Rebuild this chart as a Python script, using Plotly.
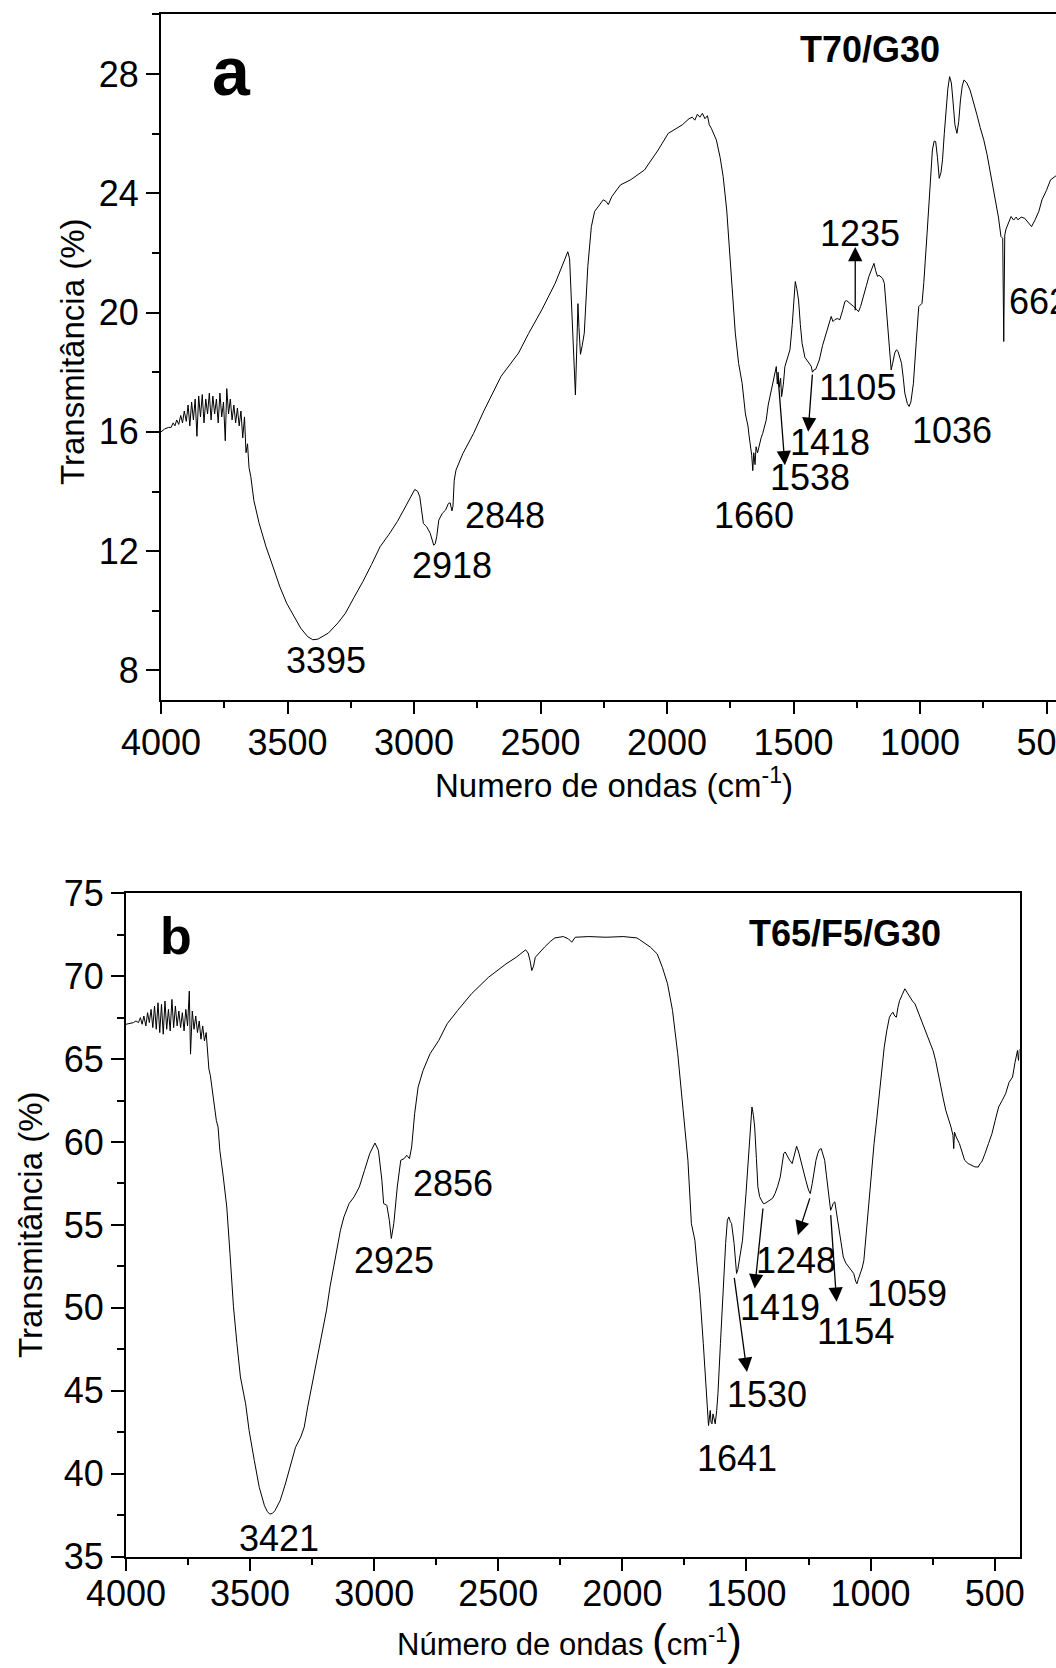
import plotly.graph_objects as go

# ---------------- data: panel a (T70/G30) ----------------
wn_a = [4000, 3985, 3970, 3960, 3952, 3945, 3938, 3930, 3922, 3915, 3908, 3900, 3893, 3886, 3879,
        3872, 3865, 3858, 3851, 3844, 3837, 3830, 3823, 3816, 3809, 3802, 3795, 3788, 3781, 3774,
        3767, 3760, 3753, 3746, 3740, 3733, 3726, 3719, 3712, 3705, 3698, 3691, 3684, 3677, 3670,
        3664, 3658, 3652, 3645, 3633, 3612, 3585, 3557, 3530, 3503, 3475, 3448, 3421, 3400, 3380,
        3339, 3300, 3271, 3237, 3202, 3168, 3134, 3100, 3066, 3030, 2997, 2985, 2977, 2963, 2950,
        2936, 2922, 2916, 2910, 2902, 2888, 2875, 2864, 2857, 2850, 2846, 2841, 2834, 2807, 2765,
        2724, 2656, 2587, 2547, 2495, 2442, 2392, 2385, 2378, 2370, 2362, 2356, 2352, 2348, 2342,
        2335, 2327, 2313, 2299, 2286, 2268, 2252, 2240, 2232, 2218, 2184, 2144, 2089, 2035, 1995,
        1940, 1913, 1900, 1890, 1880, 1870, 1860, 1850, 1840, 1833, 1825, 1805, 1790, 1778, 1764,
        1744, 1730, 1717, 1703, 1690, 1680, 1676, 1670, 1665, 1661, 1657, 1652, 1648, 1642, 1635,
        1628, 1622, 1615, 1608, 1600, 1590, 1580, 1572, 1568, 1564, 1561, 1556, 1551, 1547, 1540,
        1534, 1524, 1514, 1505, 1497, 1493, 1487, 1480, 1473, 1466, 1455, 1446, 1439, 1430, 1425,
        1419, 1412, 1398, 1385, 1371, 1358, 1351, 1344, 1337, 1327, 1317, 1305, 1297, 1290, 1276,
        1262, 1249, 1243, 1235, 1222, 1212, 1202, 1190, 1182, 1175, 1168, 1162, 1155, 1148, 1141,
        1134, 1127, 1120, 1114, 1108, 1100, 1093, 1087, 1080, 1073, 1066, 1060, 1050, 1043, 1036,
        1026, 1015, 1005, 992, 985, 972, 960, 951, 944, 938, 931, 924, 917, 911, 904,
        897, 890, 883, 876, 870, 862, 854, 847, 840, 833, 826, 815, 802, 789, 775,
        762, 748, 735, 721, 710, 701, 690, 680, 673, 669, 665, 660, 650, 640, 630,
        620, 613, 600, 586, 572, 559, 552, 545, 530, 518, 500, 484, 460, 430, 400]
t_a = [16.0, 16.1, 16.15, 16.15, 16.3, 16.2, 16.4, 16.25, 16.55, 16.3, 16.7, 16.35, 16.9, 16.2, 17.0,
       16.4, 17.1, 15.85, 17.2, 16.5, 17.25, 16.3, 17.1, 16.6, 17.3, 16.4, 17.2, 16.6, 17.1, 16.3,
       17.3, 16.5, 17.0, 15.7, 17.45, 16.6, 17.1, 16.4, 16.9, 16.3, 16.8, 16.2, 16.7, 15.8, 16.5,
       15.3, 15.6, 14.8, 14.5, 13.7, 12.93, 12.15, 11.47, 10.8, 10.25, 9.8, 9.42, 9.14, 9.03, 9.05,
       9.25, 9.6, 9.92, 10.45, 10.98, 11.55, 12.15, 12.55, 12.99, 13.55, 14.07, 14.0, 13.82, 12.93, 12.82,
       12.6, 12.2, 12.25, 12.5, 13.04, 13.27, 13.38, 13.6, 13.62, 13.35, 13.5, 14.38, 14.72, 15.27, 15.94,
       16.7, 17.86, 18.64, 19.3, 20.09, 20.98, 22.04, 21.8, 20.5, 18.5, 17.24, 19.0, 20.3, 19.5, 18.6,
       18.9, 19.31, 21.54, 22.88, 23.39, 23.6, 23.78, 23.72, 23.62, 23.89, 24.28, 24.45, 24.78, 25.45, 26.01,
       26.29, 26.5, 26.55, 26.45, 26.65, 26.55, 26.68, 26.5, 26.6, 26.3, 26.18, 25.79, 25.2, 24.56, 23.44,
       21.2, 19.31, 18.3, 17.63, 16.6, 16.2, 15.9, 15.5, 15.2, 14.7, 15.3, 14.9, 15.5, 15.3, 15.61,
       15.8, 15.94, 16.2, 16.39, 16.9, 17.3, 17.7, 18.0, 18.19, 17.6, 18.0, 17.5, 17.8, 17.18, 17.6,
       18.19, 18.5, 18.75, 19.6, 20.6, 21.04, 20.8, 20.42, 19.6, 18.97, 18.5, 18.4, 18.3, 18.2, 18.0,
       18.08, 18.1, 18.41, 18.9, 19.31, 19.7, 19.87, 19.7, 19.76, 19.8, 19.76, 20.1, 20.37, 20.4, 20.31,
       20.2, 20.09, 20.03, 20.2, 20.65, 20.9, 21.21, 21.5, 21.65, 21.4, 21.21, 21.25, 21.21, 21.15, 20.98,
       20.2, 19.31, 18.6, 18.08, 18.3, 18.64, 18.75, 18.7, 18.5, 18.3, 17.8, 17.3, 16.95, 16.85, 17.0,
       17.63, 19.0, 20.2, 20.31, 21.0, 22.66, 24.4, 25.45, 25.75, 25.73, 25.2, 24.5, 24.7, 25.12, 26.0,
       26.79, 27.5, 27.91, 27.7, 27.13, 26.3, 26.01, 26.4, 27.13, 27.6, 27.8, 27.7, 27.46, 27.1, 26.63,
       26.2, 25.79, 25.3, 24.67, 24.2, 23.78, 23.2, 22.55, 22.49, 19.03, 22.6, 22.8, 23.0, 23.22, 23.1,
       23.2, 23.11, 23.2, 23.16, 23.0, 22.88, 23.0, 23.11, 23.4, 23.78, 24.1, 24.45, 24.6, 24.8, 25.0]

# ---------------- data: panel b (T65/F5/G30) ----------------
wn_b = [4000, 3985, 3970, 3960, 3950, 3942, 3935, 3928, 3920, 3913, 3906, 3899, 3892, 3885, 3878,
        3871, 3864, 3857, 3850, 3843, 3836, 3829, 3822, 3815, 3808, 3801, 3794, 3787, 3780, 3773,
        3766, 3759, 3752, 3745, 3740, 3733, 3726, 3719, 3712, 3705, 3698, 3691, 3684, 3677, 3671,
        3666, 3660, 3650, 3643, 3636, 3629, 3622, 3608, 3594, 3581, 3567, 3553, 3539, 3518, 3504,
        3483, 3463, 3442, 3430, 3421, 3410, 3400, 3379, 3358, 3337, 3317, 3296, 3282, 3268, 3247,
        3226, 3206, 3192, 3178, 3157, 3136, 3122, 3101, 3081, 3060, 3039, 3018, 2997, 2983, 2969,
        2962, 2949, 2939, 2931, 2921, 2907, 2893, 2879, 2869, 2858, 2849, 2837, 2823, 2803, 2775,
        2740, 2706, 2664, 2608, 2539, 2469, 2428, 2390, 2380, 2372, 2365, 2358, 2351, 2333, 2314,
        2290, 2272, 2238, 2217, 2204, 2190, 2135, 2066, 1997, 1942, 1930, 1915, 1900, 1887, 1860,
        1839, 1818, 1798, 1777, 1756, 1736, 1722, 1708, 1701, 1688, 1674, 1660, 1653, 1646, 1643,
        1639, 1635, 1632, 1629, 1626, 1620, 1615, 1605, 1595, 1587, 1584, 1577, 1571, 1565, 1560,
        1550, 1540, 1535, 1529, 1516, 1502, 1488, 1478, 1472, 1467, 1460, 1454, 1447, 1440, 1433,
        1426, 1415, 1405, 1395, 1385, 1375, 1364, 1357, 1350, 1344, 1337, 1326, 1316, 1306, 1298,
        1290, 1282, 1270, 1261, 1250, 1243, 1235, 1227, 1220, 1213, 1206, 1199, 1192, 1185, 1178,
        1172, 1166, 1161, 1155, 1151, 1144, 1137, 1130, 1120, 1110, 1100, 1089, 1078, 1068, 1060,
        1055, 1050, 1041, 1034, 1027, 1016, 1006, 996, 986, 975, 965, 955, 945, 935, 924,
        917, 910, 903, 896, 890, 883, 872, 862, 852, 841, 831, 821, 810, 800, 786,
        773, 759, 748, 738, 728, 718, 707, 697, 686, 676, 668, 665, 662, 655, 642,
        631, 621, 607, 593, 580, 566, 559, 552, 546, 539, 525, 511, 498, 484, 470,
        456, 442, 428, 418, 408, 404, 400]
t_b = [67.1, 67.15, 67.2, 67.3, 67.2, 67.5, 67.1, 67.6, 67.0, 67.8, 67.2, 68.0, 66.9, 68.2, 66.8,
       68.4, 66.6, 68.3, 66.5, 68.5, 66.8, 68.0, 66.7, 68.6, 66.9, 68.2, 67.0, 67.9, 66.9, 67.8,
       66.7, 68.0, 67.0, 69.1, 65.3, 67.9, 66.8, 67.6, 66.6, 67.3, 66.2, 67.0, 66.1, 66.6, 65.4,
       64.4, 64.0, 62.91, 62.2, 61.3, 60.9, 59.5, 57.89, 56.08, 53.27, 50.06, 47.84, 45.83, 44.21, 42.6,
       40.79, 39.17, 38.06, 37.7, 37.56, 37.6, 37.76, 38.37, 39.37, 40.58, 41.59, 42.2, 42.8, 44.01, 45.63,
       47.24, 48.65, 49.86, 51.27, 52.88, 54.68, 55.48, 56.29, 56.69, 57.29, 58.29, 59.3, 59.94, 59.5, 57.69,
       56.29, 56.18, 55.28, 54.18, 55.08, 57.29, 58.9, 59.0, 59.2, 59.0, 59.7, 61.71, 63.31, 64.32, 65.32,
       66.12, 67.13, 67.93, 68.94, 69.94, 70.74, 71.14, 71.59, 71.4, 70.94, 70.34, 70.6, 71.14, 71.45, 71.75,
       72.1, 72.31, 72.39, 72.25, 72.05, 72.35, 72.39, 72.35, 72.39, 72.31, 72.2, 72.05, 71.9, 71.75, 71.35,
       70.54, 69.54, 67.93, 65.32, 61.91, 58.9, 55.08, 54.08, 52.88, 50.87, 47.84, 44.82, 42.9, 43.81, 43.1,
       43.0, 43.6, 43.41, 43.1, 43.0, 43.8, 44.82, 47.84, 50.87, 52.88, 53.88, 55.28, 55.48, 55.2, 55.08,
       53.88, 52.07, 52.3, 52.87, 54.08, 56.89, 59.9, 62.11, 61.6, 60.9, 59.0, 57.29, 56.7, 56.49, 56.3,
       56.29, 56.4, 56.49, 56.6, 56.89, 57.3, 57.89, 58.7, 59.3, 59.4, 59.2, 58.9, 58.7, 59.3, 59.74,
       59.4, 58.9, 58.2, 57.69, 57.1, 56.89, 57.5, 58.29, 58.9, 59.3, 59.55, 59.6, 59.3, 58.9, 58.0,
       57.29, 56.5, 55.88, 56.1, 56.29, 56.39, 55.7, 54.88, 53.8, 53.07, 52.7, 52.47, 52.3, 52.07, 51.6,
       51.45, 51.7, 52.07, 52.4, 52.87, 54.8, 56.89, 58.4, 59.9, 61.4, 62.91, 64.3, 65.72, 66.7, 67.53,
       67.7, 67.83, 67.6, 67.53, 68.1, 68.53, 68.9, 69.24, 69.0, 68.73, 68.5, 68.33, 67.9, 67.53, 67.0,
       66.53, 66.02, 65.5, 64.92, 64.1, 63.31, 62.6, 61.91, 61.4, 60.9, 60.4, 59.6, 60.6, 60.3, 59.9,
       59.4, 58.9, 58.7, 58.6, 58.5, 58.49, 58.7, 58.8, 59.0, 59.3, 59.9, 60.5, 61.3, 62.11, 62.5,
       62.91, 63.6, 63.92, 64.8, 65.52, 64.92, 65.6]

# peak labels (text)
peaks_a = ["3395", "2918", "2848", "1660", "1538", "1418", "1105", "1235", "1036", "662"]
peaks_b = ["3421", "2925", "2856", "1641", "1530", "1419", "1248", "1154", "1059"]

FONT = "Liberation Sans, Arial, sans-serif"
W, H = 1056, 1668

fig = go.Figure()
fig.add_trace(go.Scatter(x=wn_a, y=t_a, mode="lines", line=dict(color="black", width=1),
                         xaxis="x", yaxis="y", showlegend=False))
fig.add_trace(go.Scatter(x=wn_b, y=t_b, mode="lines", line=dict(color="black", width=1),
                         xaxis="x2", yaxis="y2", showlegend=False))

def px_x(p):
    return p / W

def px_y(p):
    return (H - p) / H

common_axis = dict(showline=True, linecolor="black", linewidth=2, ticks="outside",
                   tickcolor="black", tickwidth=2, showgrid=False, zeroline=False,
                   automargin=False, ticklabeloverflow="allow",
                   tickfont=dict(family=FONT, size=36, color="black"))

fig.update_layout(
    width=W, height=H, margin=dict(l=0, r=0, t=0, b=0, autoexpand=False),
    paper_bgcolor="white", plot_bgcolor="white",
    xaxis=dict(domain=[px_x(161), 1.0], range=[4000, 4000 - (W - 161) / 126.5 * 500],
               tick0=0, dtick=500, ticklen=12, mirror=True, anchor="y", ticklabelstandoff=-3,
               minor=dict(dtick=250, tick0=0, ticklen=6, tickwidth=2, tickcolor="black", ticks="outside"),
               **common_axis),
    yaxis=dict(domain=[px_y(700.3), px_y(14.3)], range=[7, 30], tick0=0, dtick=4, ticklen=13,
               mirror=False, anchor="x",
               minor=dict(dtick=2, tick0=0, ticklen=7, tickwidth=2, tickcolor="black", ticks="outside"),
               **common_axis),
    xaxis2=dict(domain=[px_x(126), px_x(1019.5)], range=[4000, 400], tick0=0, dtick=500, ticklen=12,
                mirror=True, anchor="y2", ticklabelstandoff=-8,
                minor=dict(dtick=250, tick0=0, ticklen=6, tickwidth=2, tickcolor="black", ticks="outside"),
                **common_axis),
    yaxis2=dict(domain=[px_y(1556.5), px_y(893.3)], range=[35, 75], tick0=0, dtick=5, ticklen=13,
                mirror=True, anchor="x2",
                minor=dict(dtick=2.5, tick0=0, ticklen=7, tickwidth=2, tickcolor="black", ticks="outside"),
                **common_axis),
)

ann = []
def text_ann(txt, x, y, xref, yref, size=36, xanchor="center", bold=False, angle=0):
    ann.append(dict(text=("<b>%s</b>" % txt) if bold else txt, x=x, y=y, xref=xref, yref=yref,
                    showarrow=False, xanchor=xanchor, yanchor="middle", textangle=angle,
                    font=dict(family=FONT, size=size, color="black")))

def arrow(x, y, ax, ay, xref, yref):
    ann.append(dict(text="", x=x, y=y, ax=ax, ay=ay, xref=xref, yref=yref, axref=xref, ayref=yref,
                    showarrow=True, arrowhead=2, arrowsize=2.2, arrowwidth=1.3, arrowcolor="black",
                    standoff=0, startstandoff=0))

# panel a peak labels
pos_a = [(3348, 8.32), (2850, 11.51), (2642, 13.18), (1656, 13.19), (1436, 14.47),
         (1355, 15.64), (1247, 17.5), (1236, 22.64), (875, 16.03)]
for txt, (x, y) in zip(peaks_a[:9], pos_a):
    text_ann(txt, x, y, "x", "y")
text_ann(peaks_a[9], 655, 20.37, "x", "y", xanchor="left")
arrow(1256, 22.2, 1256, 20.03, "x", "y")
arrow(1442, 16.0, 1425, 17.97, "x", "y")
arrow(1534, 14.88, 1561, 17.85, "x", "y")

# panel b peak labels
pos_b = [(3383, 36.11), (2921, 52.83), (2681, 57.49), (1540, 40.89), (1417, 44.78),
         (1364, 50.02), (1301, 52.83), (1061, 48.6), (852, 50.87)]
for txt, (x, y) in zip(peaks_b, pos_b):
    text_ann(txt, x, y, "x2", "y2")
arrow(1293, 54.38, 1243, 56.69, "x2", "y2")
arrow(1467, 51.17, 1433, 56.08, "x2", "y2")
arrow(1498, 46.13, 1550, 51.9, "x2", "y2")
arrow(1137, 50.36, 1161, 55.68, "x2", "y2")

# panel letters and sample names
text_ann("a", px_x(231), px_y(71), "paper", "paper", size=68, bold=True)
text_ann("b", px_x(176), px_y(936), "paper", "paper", size=52, bold=True)
text_ann("T70/G30", px_x(942), px_y(49), "paper", "paper", size=36, xanchor="right", bold=True)
text_ann("T65/F5/G30", px_x(943), px_y(933), "paper", "paper", size=36, xanchor="right", bold=True)

# axis titles
text_ann("Transmitância (%)", px_x(72), px_y(352), "paper", "paper", size=33, angle=-90)
text_ann("Transmitância (%)", px_x(30), px_y(1225), "paper", "paper", size=33, angle=-90)
text_ann("Numero de ondas (cm<sup>-1</sup>)", px_x(614), px_y(783), "paper", "paper", size=33)
text_ann("Número de ondas <span style='font-size:44px'>(</span>cm<sup>-1</sup>"
         "<span style='font-size:44px'>)</span>", px_x(569), px_y(1639), "paper", "paper", size=31)

fig.update_layout(annotations=ann)
fig.write_html("out.html")
